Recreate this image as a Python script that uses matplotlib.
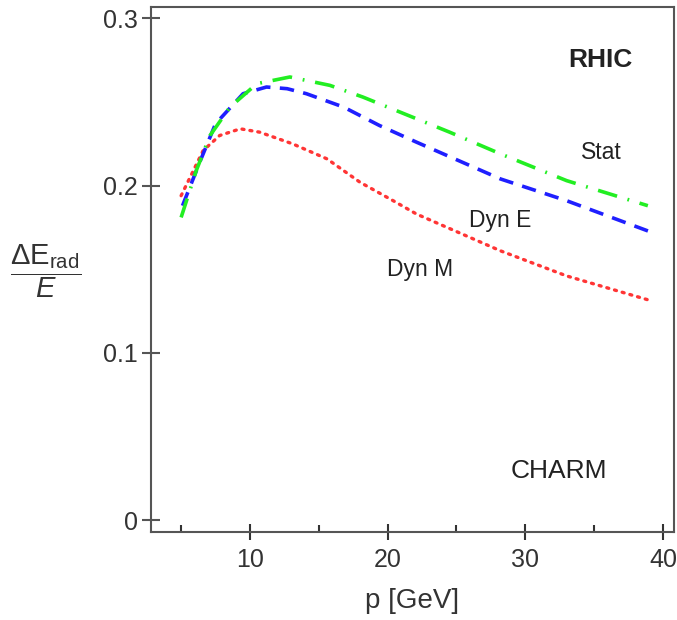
import matplotlib
matplotlib.use("Agg")
import matplotlib.pyplot as plt
from matplotlib.ticker import FixedLocator

plt.rcParams['font.family'] = ['Liberation Sans', 'DejaVu Sans']
plt.rcParams['mathtext.fontset'] = 'custom'
plt.rcParams['mathtext.rm'] = 'Liberation Sans'
plt.rcParams['mathtext.it'] = 'Liberation Sans:italic'
plt.rcParams['mathtext.bf'] = 'Liberation Sans:bold'

# data
p_stat = [5.0, 6.1, 7.1, 8.55, 10.5, 12.9, 15.8, 18.2, 20.9, 24.5, 28.2, 33.0, 38.9]
stat = [0.181, 0.209, 0.230, 0.247, 0.261, 0.265, 0.260, 0.253, 0.244, 0.232, 0.219, 0.203, 0.188]
p_dyne = [5.1, 6.4, 7.5, 9.5, 11.2, 12.7, 14.1, 16.8, 19.4, 22.1, 28.2, 33.0, 39.2]
dyne = [0.188, 0.215, 0.237, 0.255, 0.259, 0.258, 0.255, 0.247, 0.236, 0.226, 0.204, 0.191, 0.172]
p_dynm = [5.0, 6.6, 7.8, 9.3, 10.7, 13.1, 15.6, 18.0, 20.4, 22.1, 28.2, 33.0, 39.2]
dynm = [0.194, 0.221, 0.230, 0.234, 0.232, 0.225, 0.216, 0.202, 0.191, 0.183, 0.161, 0.146, 0.131]

x_ticks = [10, 20, 30, 40]
x_minor = [5, 15, 25, 35]
y_ticks = [0, 0.1, 0.2, 0.3]
y_tick_labels = ["0", "0.1", "0.2", "0.3"]

fig = plt.figure(figsize=(6.77, 6.2), dpi=100)
ax = fig.add_axes([0.223, 0.1424, 0.9956 - 0.223, 0.988 - 0.1424])

ax.plot(p_dynm, dynm, color='#ff3535', lw=2.4, linestyle=(0, (0.6, 1.8)), dash_capstyle='round')
ax.plot(p_dyne, dyne, color='#1f1fff', lw=2.6, linestyle=(0, (4.0, 2.6)))
ax.plot(p_stat, stat, color='#22ee22', lw=2.6, linestyle=(0, (5.5, 3.0, 0.5, 3.0)))

ax.set_xlim(2.81, 40.8)
ax.set_ylim(-0.007, 0.3066)

ax.xaxis.set_major_locator(FixedLocator(x_ticks))
ax.xaxis.set_minor_locator(FixedLocator(x_minor))
ax.yaxis.set_major_locator(FixedLocator(y_ticks))
ax.set_yticklabels(y_tick_labels)

for s in ax.spines.values():
    s.set_color('#555555')
    s.set_linewidth(1.5)

ax.tick_params(axis='x', which='major', direction='inout', length=11, width=1.5,
               color='#333333', labelsize=18, labelcolor='#333333', pad=6)
ax.tick_params(axis='x', which='minor', direction='in', length=5, width=1.5, color='#333333')
ax.tick_params(axis='y', which='major', direction='inout', length=13, width=1.5,
               color='#555555', labelsize=18, labelcolor='#333333', pad=3)

ax.set_xlabel('p [GeV]', fontsize=20, color='#333333', labelpad=12)
fig.text(0.068, 0.563, r'$\dfrac{\Delta\mathrm{E}_{\mathrm{rad}}}{E}$', fontsize=21,
         color='#333333', ha='center', va='center')

def place(txt, px, py, **kw):
    x, y = ax.transData.inverted().transform(fig.transFigure.transform((px / 677, 1 - py / 620)))
    ax.text(x, y, txt, ha='center', va='center', color='#222222', **kw)

place('RHIC', 600, 60, fontsize=19, fontweight='bold')
place('Stat', 601, 152, fontsize=16.5)
place('Dyn E', 500, 220, fontsize=16.5)
place('Dyn M', 420, 269, fontsize=16.5)
place('CHARM', 559, 471, fontsize=19)

fig.savefig('out.png', dpi=100)
